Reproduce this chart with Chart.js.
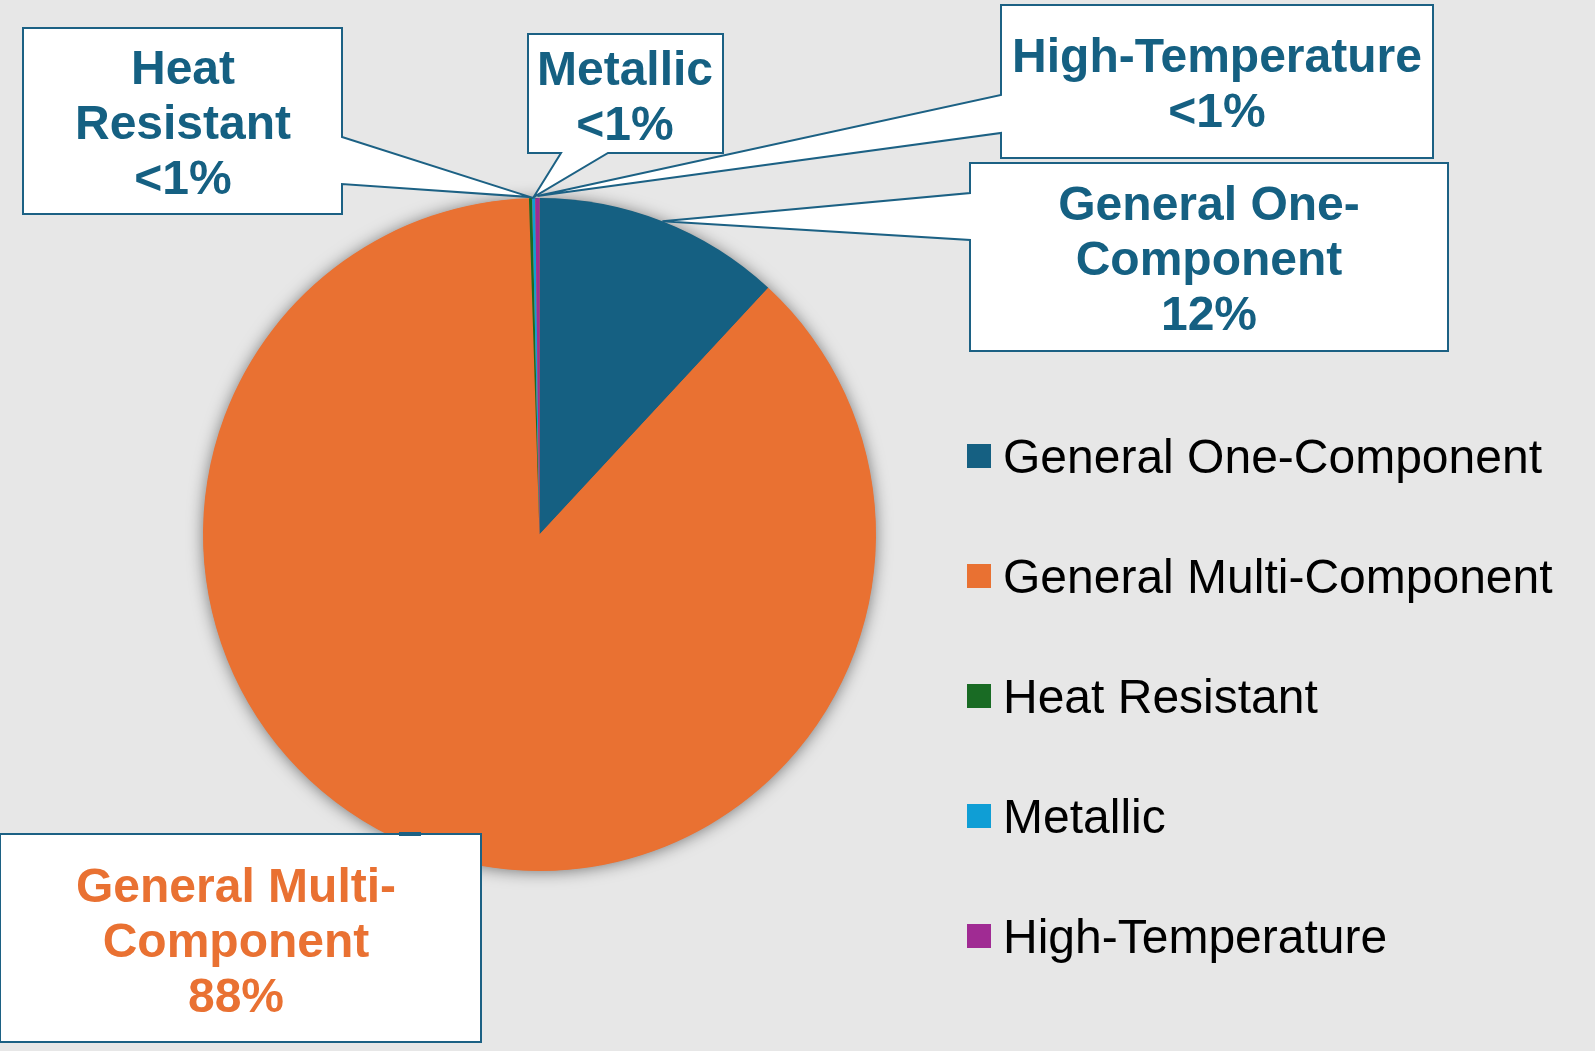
<!DOCTYPE html>
<html>
<head>
<meta charset="utf-8">
<title>Sealant types</title>
<script src="https://cdn.jsdelivr.net/npm/chart.js@4/dist/chart.umd.min.js"></script>
<style>
  html, body { margin: 0; padding: 0; background: #e7e7e7; }
  #wrap { width: 1595px; height: 1051px; position: relative; }
</style>
</head>
<body>
<div id="wrap"><canvas id="pieChart"></canvas></div>
<script>
// Kategorien und Anteile (in %)
const categories = ['General One-Component', 'General Multi-Component', 'Heat Resistant', 'Metallic', 'High-Temperature'];
const shares = [11.9, 87.6, 0.15, 0.15, 0.2];
const pctLabels = ['12%', '88%', '<1%', '<1%', '<1%'];
const labelLines = [['General One-', 'Component'], ['General Multi-', 'Component'], ['Heat', 'Resistant'], ['Metallic'], ['High-Temperature']];
const sliceColors = ['#156082', '#e97132', '#196b24', '#0f9ed5', '#a02b93'];

// Lage der Beschriftungskästen (nur Layout)
const callouts = [
    { box: [970, 163, 478, 188], side: 'left', w: [193, 240], tx: 1209, ty: 220, color: '#156082', off: 0 },
    { box: [0, 834, 481, 208], side: 'none', tab: [399, 421], tx: 236, ty: 902, color: '#e97132', off: 0 },
    { box: [23, 28, 319, 186], side: 'right', w: [137, 184], tx: 183, ty: 84, color: '#156082', off: 1 },
    { box: [528, 34, 195, 119], side: 'bottom', w: [561, 608], tx: 625, ty: 85, color: '#156082', off: 1 },
    { box: [1001, 5, 432, 153], side: 'left', w: [95, 133], tx: 1217, ty: 72, color: '#156082', off: 2 }
];
const borderColor = '#1c6184';

// Schatten unter dem Kreis
const shadowPlugin = {
    id: 'pieShadow',
    beforeDatasetsDraw(chart) {
        const arc = chart.getDatasetMeta(0).data[0];
        if (!arc) return;
        const { x, y, outerRadius } = arc.getProps(['x', 'y', 'outerRadius'], true);
        const ctx = chart.ctx;
        ctx.save();
        ctx.shadowColor = 'rgba(0,0,0,0.5)';
        ctx.shadowBlur = 16;
        ctx.shadowOffsetX = 0;
        ctx.shadowOffsetY = 1;
        ctx.fillStyle = sliceColors[1];
        ctx.beginPath();
        ctx.arc(x, y, outerRadius - 0.5, 0, Math.PI * 2);
        ctx.fill();
        ctx.restore();
    }
};

// Beschriftungen mit Legendenpfeil (Callouts)
const calloutPlugin = {
    id: 'callouts',
    afterDatasetsDraw(chart) {
        const ctx = chart.ctx;
        const meta = chart.getDatasetMeta(0);
        callouts.forEach((c, i) => {
            const arc = meta.data[i];
            const p = arc.getProps(['x', 'y', 'startAngle', 'endAngle', 'outerRadius'], true);
            const mid = (p.startAngle + p.endAngle) / 2;
            const ax = p.x + Math.cos(mid) * (p.outerRadius + c.off);
            const ay = p.y + Math.sin(mid) * (p.outerRadius + c.off);
            const [bx, by, bw, bh] = c.box;
            const R = bx + bw, B = by + bh;
            let pts;
            if (c.side === 'left') {
                pts = [[bx, by], [R, by], [R, B], [bx, B], [bx, c.w[1]], [ax, ay], [bx, c.w[0]]];
            } else if (c.side === 'right') {
                pts = [[bx, by], [R, by], [R, c.w[0]], [ax, ay], [R, c.w[1]], [R, B], [bx, B]];
            } else if (c.side === 'bottom') {
                pts = [[bx, by], [R, by], [R, B], [c.w[1], B], [ax, ay], [c.w[0], B], [bx, B]];
            } else {
                pts = [[bx, by], [R, by], [R, B], [bx, B]];
            }
            ctx.save();
            ctx.beginPath();
            pts.forEach((pt, k) => k === 0 ? ctx.moveTo(pt[0], pt[1]) : ctx.lineTo(pt[0], pt[1]));
            ctx.closePath();
            ctx.fillStyle = '#ffffff';
            ctx.fill();
            ctx.lineWidth = 2;
            ctx.lineJoin = 'miter';
            ctx.strokeStyle = borderColor;
            ctx.stroke();
            if (c.tab) {
                ctx.lineWidth = 4;
                ctx.beginPath();
                ctx.moveTo(c.tab[0], by);
                ctx.lineTo(c.tab[1], by);
                ctx.stroke();
            }
            // Text
            ctx.fillStyle = c.color;
            ctx.font = 'bold 48px "Liberation Sans", Arial, sans-serif';
            ctx.textAlign = 'center';
            ctx.textBaseline = 'alphabetic';
            const lines = labelLines[i].concat([pctLabels[i]]);
            lines.forEach((t, k) => ctx.fillText(t, c.tx, c.ty + k * 55));
            ctx.restore();
        });
    }
};

// Eigene Legende rechts
const legendPlugin = {
    id: 'sideLegend',
    afterDraw(chart) {
        const ctx = chart.ctx;
        const ds = chart.data.datasets[0];
        ctx.save();
        ctx.font = '48px "Liberation Sans", Arial, sans-serif';
        ctx.textAlign = 'left';
        ctx.textBaseline = 'alphabetic';
        chart.data.labels.forEach((lab, i) => {
            const cy = 456 + i * 120;
            ctx.fillStyle = ds.backgroundColor[i];
            ctx.fillRect(967, cy - 12, 24, 24);
            ctx.fillStyle = '#000000';
            ctx.fillText(lab, 1003, cy + 17);
        });
        ctx.restore();
    }
};

const ctx = document.getElementById('pieChart').getContext('2d');
new Chart(ctx, {
    type: 'pie',
    data: {
        labels: categories,
        datasets: [{
            data: shares,
            backgroundColor: sliceColors,
            borderWidth: 0
        }]
    },
    options: {
        responsive: true,
        maintainAspectRatio: false,
        animation: false,
        layout: {
            padding: { left: 203, right: 719, top: 198, bottom: 180 }
        },
        plugins: {
            legend: { display: false },
            tooltip: { enabled: false }
        }
    },
    plugins: [shadowPlugin, calloutPlugin, legendPlugin]
});
</script>
</body>
</html>
